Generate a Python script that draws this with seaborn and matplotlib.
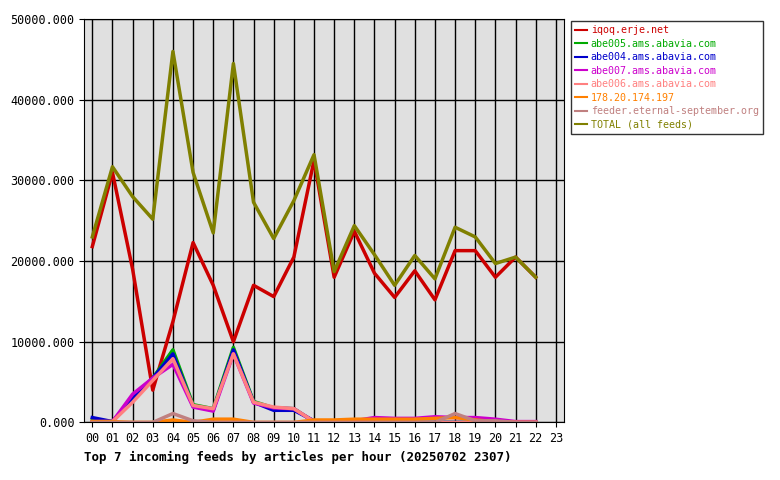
import matplotlib
matplotlib.use("Agg")
import matplotlib.pyplot as plt
import seaborn as sns
import pandas as pd

hours = [f"{h:02d}" for h in range(24)]
names = ["iqoq.erje.net", "abe005.ams.abavia.com", "abe004.ams.abavia.com",
         "abe007.ams.abavia.com", "abe006.ams.abavia.com", "178.20.174.197",
         "feeder.eternal-september.org", "TOTAL (all feeds)"]
colors = ["#cc0000", "#00aa00", "#0000cc", "#cc00cc", "#ff8080", "#ff8000", "#c08080", "#808000"]

iqoq = [21800, 31000, 19000, 4000, 12500, 22300, 17000, 10000, 17000, 15600, 20500, 32500,
        18000, 23700, 18500, 15500, 18800, 15200, 21300, 21300, 18000, 20500, 18000]
abe005 = [300, 100, 2800, 5500, 9000, 2200, 1700, 9300, 2600, 1800, 1700, 100,
          0, 0, 0, 0, 0, 0, 0, 0, 0, 0, 0]
abe004 = [600, 100, 3000, 5500, 8500, 2000, 1500, 9000, 2500, 1500, 1500, 200,
          0, 0, 0, 0, 0, 0, 0, 0, 0, 0, 0]
abe007 = [100, 100, 3500, 5500, 7200, 1900, 1400, 8500, 2400, 1800, 1700, 100,
          100, 200, 600, 500, 500, 700, 600, 600, 400, 100, 100]
abe006 = [100, 100, 2500, 5200, 7900, 2100, 1700, 8500, 2500, 1900, 1700, 100,
          0, 0, 0, 0, 0, 0, 0, 0, 0, 0, 0]
ip178 = [100, 100, 0, 0, 300, 0, 400, 400, 0, 0, 0, 300,
         300, 400, 400, 400, 400, 500, 600, 300, 100, 0, 0]
feeder = [0, 0, 0, 0, 1100, 200, 0, 0, 0, 0, 0, 0,
          0, 0, 0, 0, 0, 0, 1100, 200, 200, 0, 0]
total = [23000, 31700, 28000, 25200, 46000, 31000, 23500, 44500, 27300, 22800, 27500, 33200,
         18700, 24400, 20800, 17000, 20700, 17800, 24200, 23000, 19700, 20500, 18000]

series = [iqoq, abe005, abe004, abe007, abe006, ip178, feeder, total]
rows = []
for n, s in zip(names, series):
    for i, v in enumerate(s):
        rows.append({"hour": i, "value": v, "feed": n})
df = pd.DataFrame(rows)

plt.rcParams["font.family"] = "DejaVu Sans Mono"
fig = plt.figure(figsize=(7.8, 4.8), dpi=100)
ax = fig.add_axes([0.108, 0.12, 0.615, 0.84])
ax.set_facecolor("#e0e0e0")
sns.lineplot(data=df, x="hour", y="value", hue="feed", hue_order=names,
             palette=colors, linewidth=2.5, ax=ax, legend=True)
ax.set_xlim(-0.4, 23.4)
ax.set_ylim(0, 50000)
ax.set_xticks(range(24))
ax.set_xticklabels(hours, fontsize=8.5)
ax.set_yticks(range(0, 50001, 10000))
ax.set_yticklabels([f"{v}.000" for v in range(0, 50001, 10000)], fontsize=8.5)
ax.grid(True, color="black", linewidth=1)
ax.set_axisbelow(True)
ax.set_xlabel("Top 7 incoming feeds by articles per hour (20250702 2307)",
              fontsize=9, fontweight="bold", loc="left", labelpad=4)
ax.set_ylabel("")
for sp in ax.spines.values():
    sp.set_color("black")
leg = ax.legend(loc="upper left", bbox_to_anchor=(1.01, 1.0), fontsize=7.2,
                frameon=True, fancybox=False, edgecolor="black",
                handlelength=1.2, handletextpad=0.4, borderpad=0.4, labelspacing=0.35,
                borderaxespad=0.2)
for t, c in zip(leg.get_texts(), colors):
    t.set_color(c)
for l in leg.get_lines():
    l.set_linewidth(1.5)
fig.savefig("out.png", dpi=100)
